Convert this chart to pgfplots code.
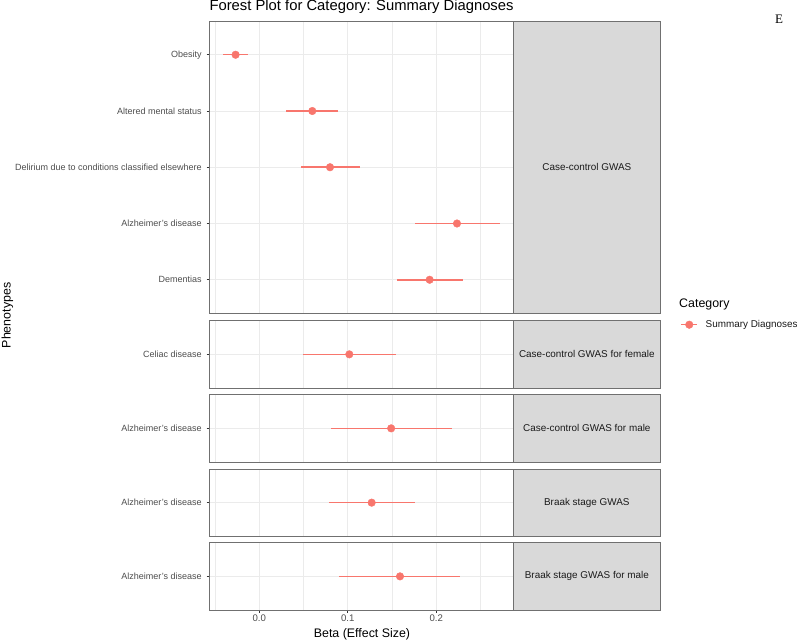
\documentclass[border=0pt]{standalone}
\usepackage{fontspec}
\setmainfont{Liberation Sans}
\newfontfamily\serifE{Liberation Serif}
\usepackage{pgfplots}
\usepackage{pgfplotstable}
\pgfplotsset{compat=1.18}
\definecolor{pt}{HTML}{F8766D}
\definecolor{g20}{HTML}{333333}
\definecolor{g30}{HTML}{4D4D4D}
\definecolor{g85}{HTML}{D9D9D9}
\definecolor{g92}{HTML}{EBEBEB}
\definecolor{g10}{HTML}{1A1A1A}
\definecolor{bord}{HTML}{707070}

\pgfplotstableread{
y b lo hi
5 -0.0268 -0.0407 -0.0128
4 0.0599 0.0305 0.0893
3 0.0799 0.0467 0.1140
2 0.2234 0.1755 0.2723
1 0.1925 0.1556 0.2298
}\sumdiag
\pgfplotstableread{
y b lo hi
1 0.1017 0.0490 0.1548
}\celiac
\pgfplotstableread{
y b lo hi
1 0.1490 0.0810 0.2174
}\ccmale
\pgfplotstableread{
y b lo hi
1 0.1270 0.0790 0.1760
}\braak
\pgfplotstableread{
y b lo hi
1 0.1590 0.0897 0.2270
}\braakmale

\pgfplotsset{
  panel/.style={
    scale only axis, width=304.4pt, anchor=south west,
    xmin=-0.0565, xmax=0.2875,
    xtick={0,0.1,0.2}, minor xtick={-0.05,0.05,0.15,0.25},
    grid=both,
    major grid style={g92, line width=0.6pt},
    minor grid style={g92, line width=0.3pt},
    axis line style={draw=bord, line width=0.9pt},
    tick align=outside, ytick pos=left, xtick pos=bottom,
    major tick length=2.75pt, minor tick length=0pt,
    ytick style={g20, line width=0.6pt},
    xtick style={draw=none},
    xticklabels={},
    ticklabel style={font=\fontsize{9}{10}\selectfont, text=g30},
    yticklabel style={inner sep=2.2pt, xshift=-2.5pt},
    /pgf/number format/assume math mode=true,
  },
  small/.style={height=67.3pt, ymin=0.4, ymax=1.6, ytick={1}},
  ci/.style={pt, mark=*, mark size=3.8pt, only marks,
    error bars/x dir=both, error bars/x explicit,
    error bars/error bar style={line width=1.5pt, pt}, error bars/error mark=none},
  table/civals/.style={x=b, y=y, x error plus expr=\thisrow{hi}-\thisrow{b},
    x error minus expr=\thisrow{b}-\thisrow{lo}},
}
\tikzset{strip/.style={draw=bord, fill=g85, line width=0.9pt},
  striptext/.style={text=g10, font=\fontsize{9.9}{11}\selectfont}}

\begin{document}
\begin{tikzpicture}
\useasboundingbox (0,0) rectangle (797pt,641pt);

% panel 1
\begin{axis}[panel, name=p1, at={(209.3pt,327.5pt)}, height=292.5pt,
  ymin=0.4, ymax=5.6, ytick={1,2,3,4,5},
  yticklabels={Dementias, Alzheimer's disease, Delirium due to conditions classified elsewhere, Altered mental status, Obesity},
  legend style={at={(1.5463,-0.0383)}, anchor=west, draw=none, fill=none, inner sep=0pt,
    font=\fontsize{9.9}{11}\selectfont, text=g10,
    /tikz/every odd column/.append style={column sep=6pt}},
  legend cell align=left]
\addplot[ci, legend image code/.code={\draw[pt, line width=1.5pt] (0pt,0pt) -- (16pt,0pt); \fill[pt] (8.3pt,0pt) circle (3.8pt);}]
  table[civals] {\sumdiag};
\addlegendentry{Summary Diagnoses}
\end{axis}
\draw[strip] (p1.south east) rectangle ++(146.3pt,292.5pt);
\node[striptext] at ([xshift=73.15pt]p1.east) {Case-control GWAS};

% panel 2
\begin{axis}[panel, small, name=p2, at={(209.3pt,253pt)}, yticklabels={Celiac disease}]
\addplot[ci] table[civals] {\celiac};
\end{axis}
\draw[strip] (p2.south east) rectangle ++(146.3pt,67.3pt);
\node[striptext] at ([xshift=73.15pt]p2.east) {Case-control GWAS for female};

% panel 3
\begin{axis}[panel, small, name=p3, at={(209.3pt,179pt)}, yticklabels={Alzheimer's disease}]
\addplot[ci] table[civals] {\ccmale};
\end{axis}
\draw[strip] (p3.south east) rectangle ++(146.3pt,67.3pt);
\node[striptext] at ([xshift=73.15pt]p3.east) {Case-control GWAS for male};

% panel 4
\begin{axis}[panel, small, name=p4, at={(209.3pt,104.7pt)}, yticklabels={Alzheimer's disease}]
\addplot[ci] table[civals] {\braak};
\end{axis}
\draw[strip] (p4.south east) rectangle ++(146.3pt,67.3pt);
\node[striptext] at ([xshift=73.15pt]p4.east) {Braak stage GWAS};

% panel 5, carries the x axis
\begin{axis}[panel, small, name=p5, at={(209.3pt,31pt)}, yticklabels={Alzheimer's disease},
  xticklabels={0.0,0.1,0.2}, xtick style={draw=g20, line width=0.6pt},
  xticklabel style={inner sep=2.2pt, font=\fontsize{9.6}{10}\selectfont}]
\addplot[ci] table[civals] {\braakmale};
\end{axis}
\draw[strip] (p5.south east) rectangle ++(146.3pt,67.3pt);
\node[striptext] at ([xshift=73.15pt]p5.east) {Braak stage GWAS for male};

% titles
\node[anchor=base west, inner sep=0pt, font=\fontsize{14.8}{17}\selectfont, text=black] at (209.3pt,630pt) {Forest Plot for Category: Summary Diagnoses};
\node[anchor=base, inner sep=0pt, font=\fontsize{12.4}{14}\selectfont] at (362pt,4pt) {Beta (Effect Size)};
\node[rotate=90, font=\fontsize{12.4}{14}\selectfont] at (7.5pt,325.5pt) {Phenotypes};
\node[anchor=base west, inner sep=0pt, font=\fontsize{12.4}{14}\selectfont] at (679pt,333.3pt) {Category};
\node[anchor=base west, inner sep=0pt, font=\serifE\fontsize{13}{15}\selectfont] at (775pt,617pt) {E};
\end{tikzpicture}
\end{document}
